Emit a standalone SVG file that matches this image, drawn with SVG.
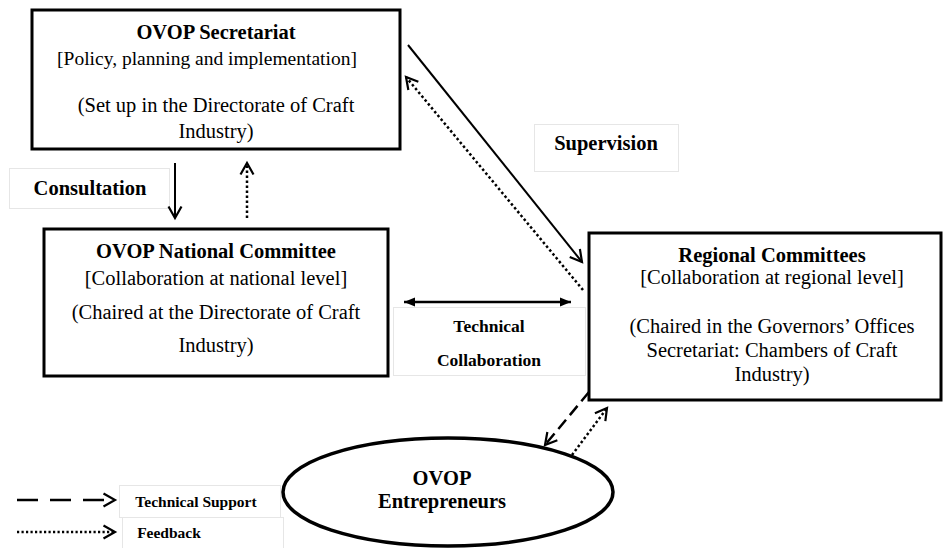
<svg xmlns="http://www.w3.org/2000/svg" width="944" height="548" viewBox="0 0 944 548">
  <defs>
    <!-- open chevron head used by solid, dashed and dotted arrows -->
    <marker id="chev" viewBox="0 0 16 16" markerUnits="userSpaceOnUse" markerWidth="16" markerHeight="16" refX="13" refY="8" orient="auto">
      <path d="M1.5,1.5 L13,8 L1.5,14.5" fill="none" stroke="#000" stroke-width="2.2" stroke-dasharray="none"/>
    </marker>
    <!-- filled head for the two-way collaboration arrow -->
    <marker id="tri" viewBox="0 0 12 10" markerUnits="userSpaceOnUse" markerWidth="12" markerHeight="10" refX="11" refY="5" orient="auto-start-reverse">
      <path d="M0,0.5 L11,5 L0,9.5 z" fill="#000"/>
    </marker>
  </defs>
  <style>
    .box{fill:#fff;stroke:#000;stroke-width:3}
    .lbl{fill:#fff;stroke:#e6e6e6;stroke-width:1}
    .t{font-family:"Liberation Serif","Times New Roman",serif;fill:#000;text-anchor:middle;font-size:20.5px}
    .b{font-weight:bold}
    .s17{font-size:17.5px}
    .s15{font-size:15.5px}
    .ln{fill:none;stroke:#000;stroke-width:2}
    .dot{stroke-dasharray:2.5 2.5;stroke-width:2.5}
    .dash{stroke-dasharray:12 6;stroke-width:2.5}
  </style>

  <rect width="944" height="548" fill="#fff"/>

  <!-- connector labels -->
  <g id="labels">
    <rect class="lbl" x="9.5" y="168.5" width="160" height="40"/>
    <text class="t b" x="90" y="195">Consultation</text>
    <rect class="lbl" x="534.5" y="124.5" width="144" height="47"/>
    <text class="t b" x="606" y="150">Supervision</text>
    <rect class="lbl" x="393.5" y="307.5" width="192" height="68"/>
    <text class="t b s17" x="489" y="332">Technical</text>
    <text class="t b s17" x="489" y="366">Collaboration</text>
  </g>

  <!-- connectors -->
  <g id="connectors">
    <line class="ln" x1="175" y1="163" x2="175" y2="218" marker-end="url(#chev)"/>
    <line class="ln dot" x1="247" y1="218" x2="247" y2="163" marker-end="url(#chev)"/>
    <line class="ln" x1="408" y1="45" x2="582" y2="262" marker-end="url(#chev)"/>
    <line class="ln dot" x1="583" y1="290" x2="406" y2="77" marker-end="url(#chev)"/>
    <line class="ln" style="stroke-width:2.5" x1="404" y1="302" x2="571" y2="302" marker-start="url(#tri)" marker-end="url(#tri)"/>
    <line class="ln dash" x1="589" y1="392" x2="545" y2="445" marker-end="url(#chev)"/>
    <line class="ln dot" x1="572" y1="455" x2="607" y2="408" marker-end="url(#chev)"/>
  </g>

  <g id="secretariat">
    <rect class="box" x="32" y="10" width="368" height="139"/>
    <text class="t b" x="216" y="39">OVOP Secretariat</text>
    <text class="t" x="207" y="65" style="font-size:19.5px">[Policy, planning and implementation]</text>
    <text class="t" x="216" y="112">(Set up in the Directorate of Craft</text>
    <text class="t" x="216" y="138">Industry)</text>
  </g>

  <g id="national-committee">
    <rect class="box" x="44" y="229" width="344" height="147"/>
    <text class="t b" x="216" y="258">OVOP National Committee</text>
    <text class="t" x="216" y="285">[Collaboration at national level]</text>
    <text class="t" x="216" y="319">(Chaired at the Directorate of Craft</text>
    <text class="t" x="216" y="352">Industry)</text>
  </g>

  <g id="regional-committees">
    <rect class="box" x="589" y="233" width="352" height="167"/>
    <text class="t b" x="772" y="262">Regional Committees</text>
    <text class="t" x="772" y="284">[Collaboration at regional level]</text>
    <text class="t" x="772" y="333">(Chaired in the Governors’ Offices</text>
    <text class="t" x="772" y="357">Secretariat: Chambers of Craft</text>
    <text class="t" x="772" y="381">Industry)</text>
  </g>

  <g id="entrepreneurs">
    <ellipse cx="448" cy="492" rx="165" ry="54" fill="#fff" stroke="#000" stroke-width="3.5"/>
    <text class="t b" x="442" y="485">OVOP</text>
    <text class="t b" x="442" y="508">Entrepreneurs</text>
  </g>

  <!-- key -->
  <g id="legend">
    <rect class="lbl" x="119.5" y="485.5" width="161" height="32"/>
    <rect class="lbl" x="122.5" y="517.5" width="161" height="32"/>
    <line class="ln dash" style="stroke-dasharray:21 12" x1="17" y1="500" x2="115" y2="500" marker-end="url(#chev)"/>
    <line class="ln dot" style="stroke-dasharray:2.2 2.3" x1="17" y1="532" x2="115" y2="532" marker-end="url(#chev)"/>
    <text class="t b s15" x="196" y="507">Technical Support</text>
    <text class="t b s15" x="169" y="538">Feedback</text>
  </g>
</svg>
